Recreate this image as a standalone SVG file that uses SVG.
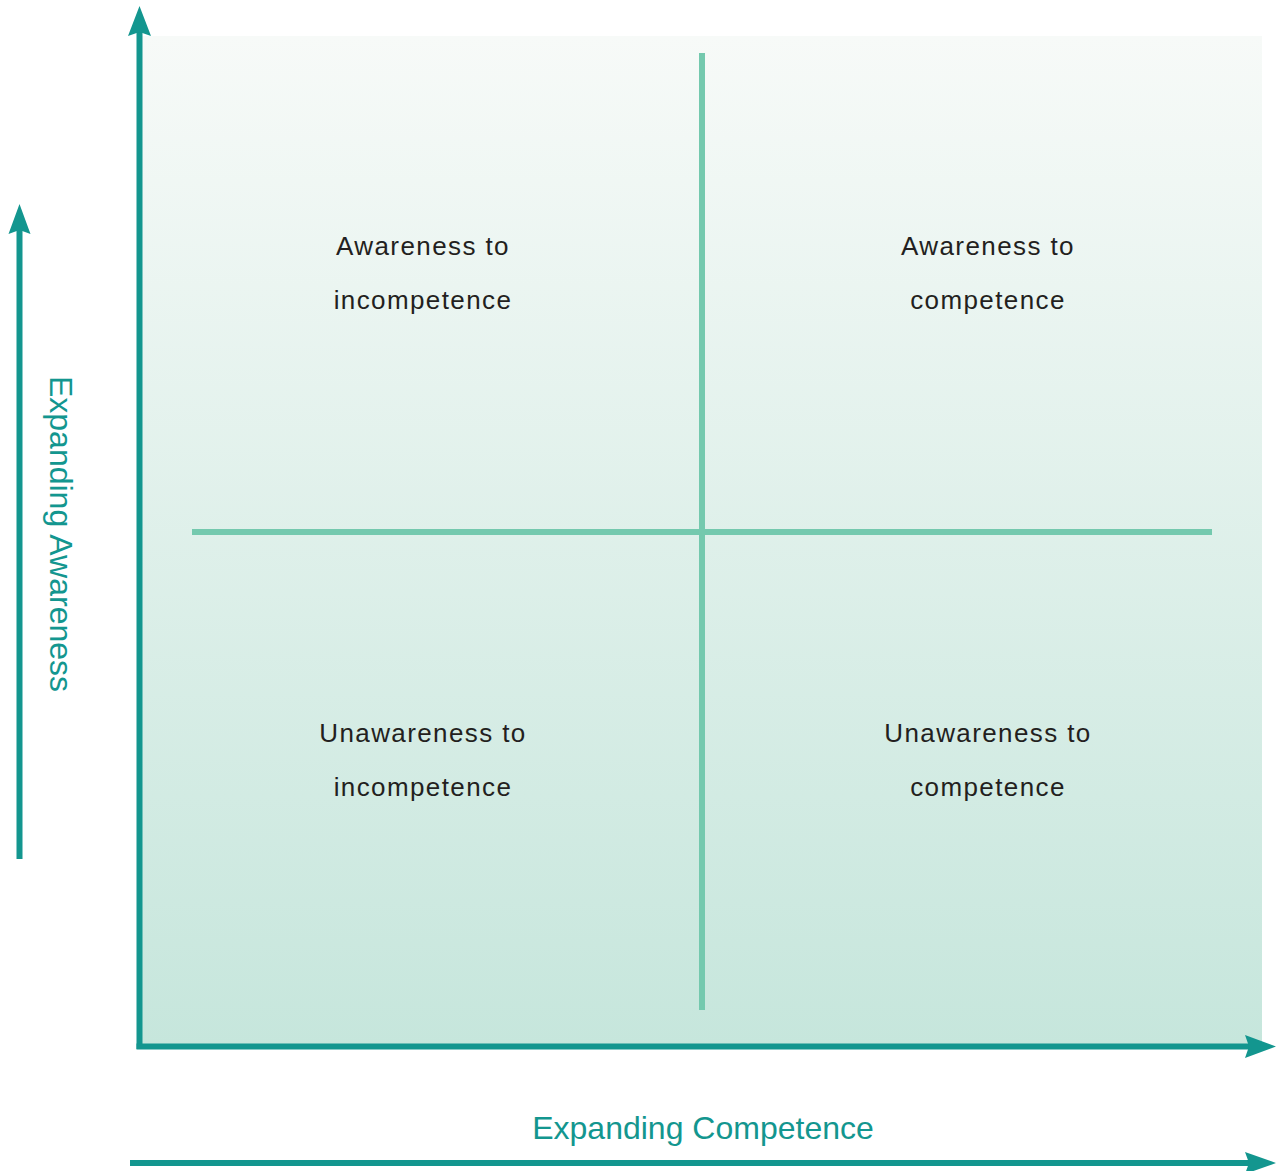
<svg xmlns="http://www.w3.org/2000/svg" width="1276" height="1171" viewBox="0 0 1276 1171">
  <defs>
    <linearGradient id="field" x1="0" y1="0" x2="0" y2="1">
      <stop offset="0" stop-color="#f7faf8"/>
      <stop offset="1" stop-color="#c6e6dc"/>
    </linearGradient>
    <style>
      .axis { stroke: #13968f; stroke-width: 6; fill: none; }
      .head { fill: #13968f; }
      .grid { stroke: #74c9ae; stroke-width: 6; fill: none; }
      .label { font-family: "Liberation Sans", Arial, sans-serif; font-size: 26px; fill: #231f20; text-anchor: middle; letter-spacing: 1.4px; }
      .axis-title { font-family: "Liberation Sans", Arial, sans-serif; font-size: 32px; fill: #13968f; text-anchor: middle; }
    </style>
  </defs>

  <rect width="1276" height="1171" fill="#ffffff"/>

  <!-- shaded quadrant field -->
  <rect id="field-bg" x="141" y="36" width="1121" height="1010" fill="url(#field)"/>

  <g id="connectors">
    <!-- quadrant dividers -->
    <line class="grid" x1="702" y1="53" x2="702" y2="1010"/>
    <line class="grid" x1="192" y1="532" x2="1212" y2="532"/>

    <!-- main axes -->
    <line class="axis" x1="139.5" y1="1049" x2="139.5" y2="30"/>
    <polygon class="head" points="139.5,6 151,36 139.5,32 128,36"/>
    <line class="axis" x1="136.5" y1="1046.5" x2="1250" y2="1046.5"/>
    <polygon class="head" points="1276,1046.5 1245,1035 1249,1046.5 1245,1058"/>

    <!-- side arrows -->
    <line class="axis" x1="19.5" y1="859" x2="19.5" y2="228" stroke-width="5"/>
    <polygon class="head" points="19.5,204 30.5,234 19.5,230 8.5,234"/>
    <line class="axis" x1="130" y1="1163" x2="1250" y2="1163" stroke-width="5"/>
    <polygon class="head" points="1276,1163 1245,1152 1249,1163 1245,1174"/>
  </g>

  <g id="q-aware-incompetence">
    <text class="label" x="423" y="255">Awareness to</text>
    <text class="label" x="423" y="309">incompetence</text>
  </g>
  <g id="q-aware-competence">
    <text class="label" x="988" y="255">Awareness to</text>
    <text class="label" x="988" y="309">competence</text>
  </g>
  <g id="q-unaware-incompetence">
    <text class="label" x="423" y="742">Unawareness to</text>
    <text class="label" x="423" y="796">incompetence</text>
  </g>
  <g id="q-unaware-competence">
    <text class="label" x="988" y="742">Unawareness to</text>
    <text class="label" x="988" y="796">competence</text>
  </g>

  <g id="axis-labels">
    <text class="axis-title" x="703" y="1139">Expanding Competence</text>
    <text class="axis-title" transform="translate(50,534) rotate(90)" x="0" y="0">Expanding Awareness</text>
  </g>
</svg>
